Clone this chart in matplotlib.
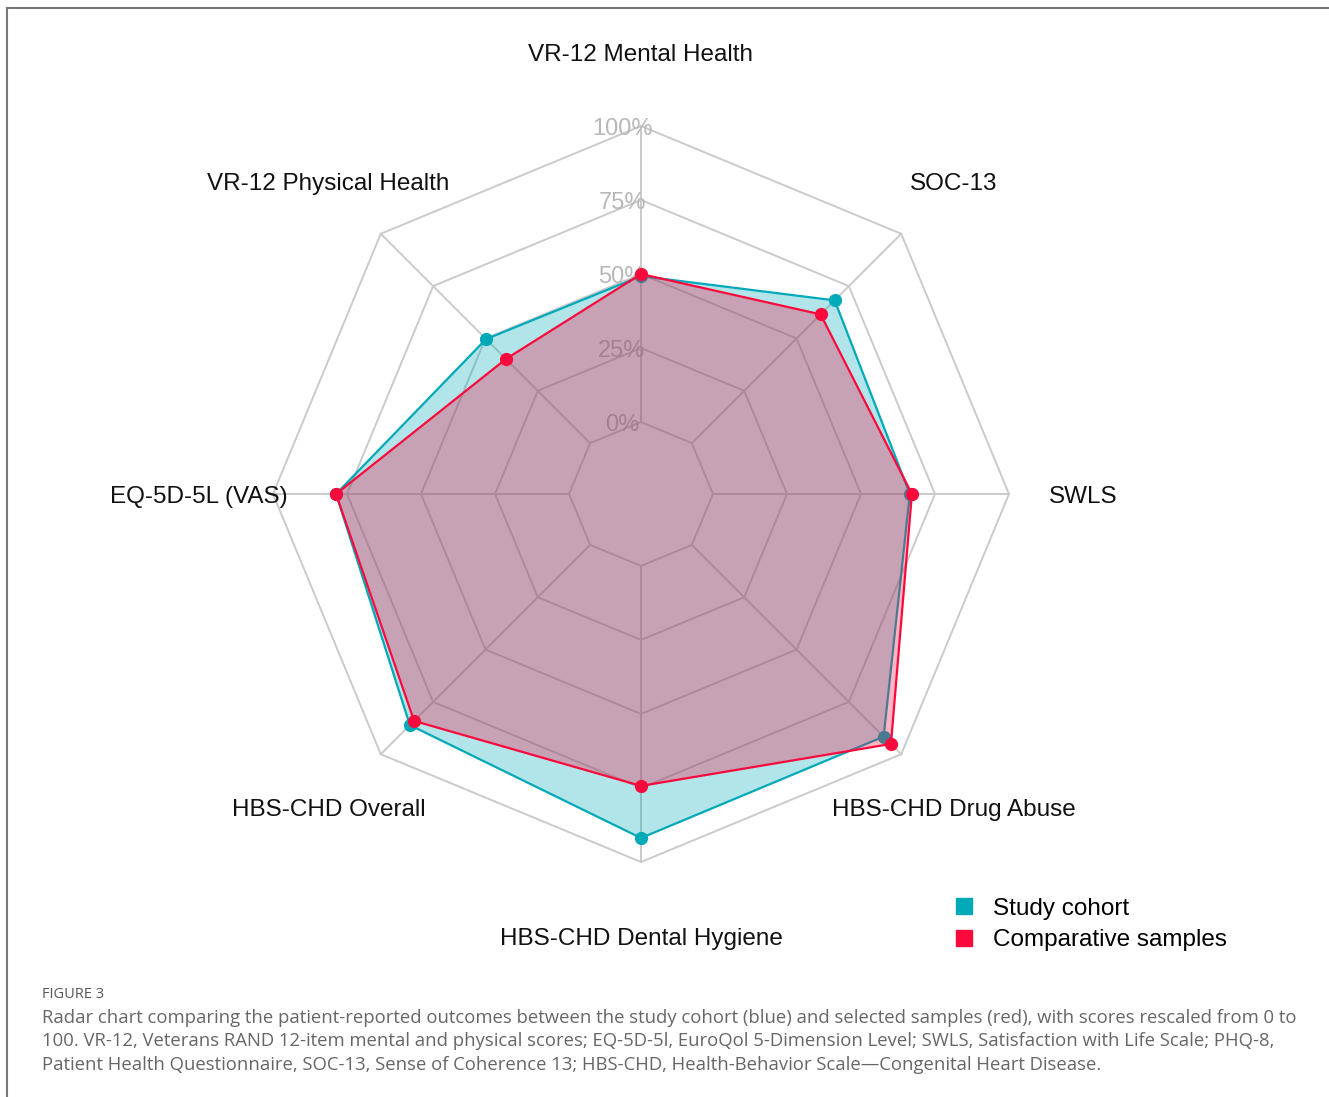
import numpy as np
import matplotlib
matplotlib.use("Agg")
import matplotlib.pyplot as plt
import matplotlib.transforms as mtransforms
from matplotlib.lines import Line2D

# axes, clockwise from the top
categories = ["VR-12 Mental Health", "SOC-13", "SWLS", "HBS-CHD Drug Abuse",
              "HBS-CHD Dental Hygiene", "HBS-CHD Overall", "EQ-5D-5L (VAS)",
              "VR-12 Physical Health"]
study_cohort = [49.3, 68.2, 66.5, 91.6, 91.9, 86.1, 78.7, 49.7]
comparative = [50.0, 61.5, 67.2, 95.1, 74.3, 84.1, 78.7, 40.2]
grid_levels = [0, 25, 50, 75, 100]
grid_labels = ["0%", "25%", "50%", "75%", "100%"]
series_names = ["Study cohort", "Comparative samples"]

teal = "#00A9B8"
red = "#FA0A3C"
grid_col = "#CACACA"

caption_title = "FIGURE 3"
caption_lines = [
    "Radar chart comparing the patient-reported outcomes between the study cohort (blue) and selected samples (red), with scores rescaled from 0 to",
    "100. VR-12, Veterans RAND 12-item mental and physical scores; EQ-5D-5l, EuroQol 5-Dimension Level; SWLS, Satisfaction with Life Scale; PHQ-8,",
    "Patient Health Questionnaire, SOC-13, Sense of Coherence 13; HBS-CHD, Health-Behavior Scale\u2014Congenital Heart Disease.",
]

plt.rcParams['font.family'] = ['Liberation Sans', 'DejaVu Sans']

W, H = 1329, 1097
fig = plt.figure(figsize=(W / 100, H / 100), dpi=100)

# polar axes centred on the chart, radius 368 px
cx, cy, R = 641, 494, 368
ax = fig.add_axes([(cx - R) / W, (H - cy - R) / H, 2 * R / W, 2 * R / H], projection="polar")
ax.set_theta_zero_location("N")
ax.set_theta_direction(-1)
ax.set_ylim(0, 100)
ax.set_rorigin(-24.3)
ax.set_axis_off()

n = len(categories)
theta = np.arange(n) * 2 * np.pi / n
theta_c = np.append(theta, theta[0])

# octagon grid and spokes
for lv in grid_levels:
    ax.plot(theta_c, [lv] * (n + 1), color=grid_col, lw=1.4, zorder=1, clip_on=False)
for t in theta:
    ax.plot([t, t], [0, 100], color=grid_col, lw=1.4, zorder=1, clip_on=False)

shift = ax.transData + mtransforms.ScaledTranslation(-19 / 100, -3 / 100, fig.dpi_scale_trans)
for lv, lab in zip(grid_levels, grid_labels):
    ax.text(0, lv, lab, color="#B8B8B8", fontsize=17, ha="center", va="center",
            transform=shift, zorder=2, clip_on=False)

# series
z = 3
for vals, col in [(study_cohort, teal), (comparative, red)]:
    v = np.append(vals, vals[0])
    ax.fill(theta_c, v, color=col, alpha=0.3, lw=0, zorder=z, clip_on=False)
    ax.plot(theta_c, v, color=col, lw=1.6, zorder=z + 1, clip_on=False)
    ax.plot(theta, vals, "o", color=col, ms=8.5, zorder=z + 2, clip_on=False)
    z += 3

lab_shift = ax.transData + mtransforms.ScaledTranslation(0, -3 / 100, fig.dpi_scale_trans)
for t, lab in zip(theta, categories):
    ax.text(t, 125, lab, fontsize=17.5, ha="center", va="center", color="#111111",
            transform=lab_shift, clip_on=False)

handles = [Line2D([], [], marker="s", ls="", color=c, ms=11) for c in (teal, red)]
fig.legend(handles, series_names, loc="upper left", bbox_to_anchor=(940 / W, 1 - 888 / H),
           frameon=False, fontsize=17.5, handletextpad=0.6, labelspacing=0.4,
           borderaxespad=0, handlelength=1.2)

# caption
fig.text(42 / W, 1 - 995 / H, caption_title, fontsize=10.5, color="#555555",
         family="Open Sans", va="center", ha="left")
for i, line in enumerate(caption_lines):
    fig.text(42 / W, 1 - (1018 + i * 23.5) / H, line, fontsize=13.3, color="#666666",
             family="Open Sans", va="center", ha="left")

# frame lines top and left
fig.add_artist(Line2D([7 / W, 1], [1 - 8 / H, 1 - 8 / H], color="#777777", lw=1.5))
fig.add_artist(Line2D([7 / W, 7 / W], [0, 1 - 8 / H], color="#777777", lw=1.5))

fig.savefig("out.png", dpi=100)
